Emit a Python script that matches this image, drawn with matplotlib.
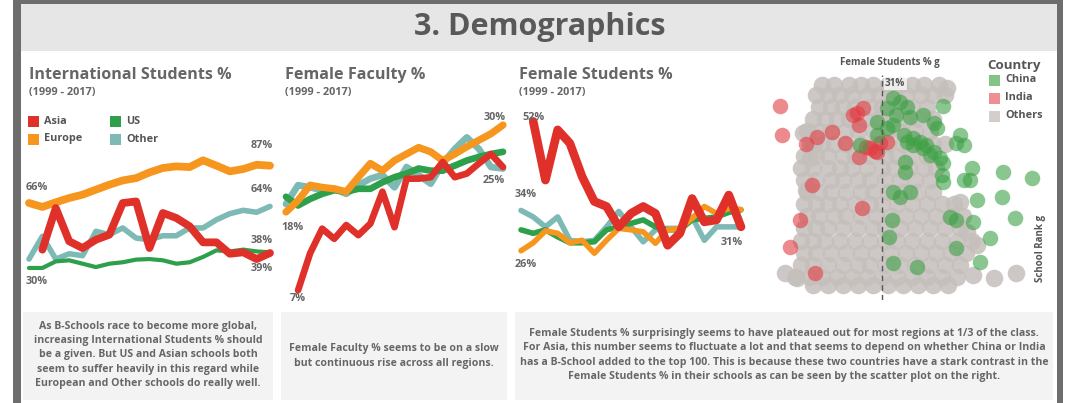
import numpy as np
import matplotlib
matplotlib.use('Agg')
import matplotlib.pyplot as plt
from matplotlib.patches import Rectangle

# Data (values in %)
years = list(range(1999, 2018))

# International Students % (Asia starts in 2000)
intl_europe = [66, 63.8, 66.4, 68.8, 70.7, 73.5, 76.3, 78.7, 80, 83.2, 85.7, 86.6, 86.2, 90, 87, 83.8, 85.1, 87.5, 87]
intl_asia = [39.8, 63.2, 44.5, 40.7, 45.4, 48.2, 66, 66.9, 40.7, 60.4, 57.6, 52.9, 43.9, 43.9, 37.5, 38.3, 34.5, 37.9]
intl_us = [29.5, 29.5, 33.2, 33.8, 31.9, 30, 31.9, 32.7, 34.2, 34.5, 33.8, 31.9, 32.7, 35.7, 39.4, 38.8, 39.8, 38.8, 38.3]
intl_other = [34.5, 47.3, 34.5, 37.5, 36.4, 50.1, 48.2, 52, 46.3, 45.4, 47.6, 47.6, 52, 52, 56.6, 60, 61.9, 60.8, 64.1]

# Female Faculty %
fac_europe = [18, 19.6, 21.7, 21.4, 21.2, 20.8, 22.8, 24.7, 23.7, 25.1, 26, 26.9, 26.3, 25.1, 26, 27, 27.9, 28.8, 30]
fac_asia = [7.2, 12.3, 15.7, 14.3, 16.2, 14.8, 16.4, 20.8, 15.9, 22.6, 22.6, 22.8, 24.9, 22.8, 23.3, 24.7, 26, 24.2]
fac_us = [20.1, 18.9, 19.8, 20.5, 21, 20.8, 21.2, 21.2, 22.1, 22.8, 23.3, 24, 23.7, 23.7, 24.4, 25.1, 25.6, 26, 26.3]
fac_other = [19.1, 21.7, 21.4, 21, 21.2, 20.5, 21.7, 22.6, 23.1, 21.4, 24.2, 23.1, 21.9, 24.7, 26.7, 28.3, 26.7, 24.2, 24]

# Female Students %
stu_europe = [26, 27.6, 30, 29.5, 27.6, 28.1, 25.5, 28.1, 30.5, 30.2, 29.8, 27.5, 30.2, 30.5, 32.5, 34.9, 33.5, 34.5, 34.3]
stu_asia = [52, 40.2, 50.3, 47.6, 40.9, 35.9, 34.9, 30.8, 33.5, 34.9, 33.5, 27.1, 29.5, 36.5, 31.8, 32.2, 37.2, 30.8]
stu_us = [30.2, 29.5, 30.2, 28.8, 27.6, 27.6, 27.8, 30.2, 30.8, 31.5, 32.2, 30.8, 30.2, 30.2, 32.2, 32.5, 32.8, 33.7, 34.2]
stu_other = [34.1, 32.8, 30.8, 32.8, 28.1, 27.8, 28.1, 30.8, 33.9, 30.8, 27.8, 30.2, 30.5, 30.5, 32.8, 28.1, 30.8, 30.8, 30.8]

# Scatter: Female Students % vs School Rank
china_pct = [41.2, 32.9, 34.0, 31.8, 35.1, 33.4, 35.7, 37.9, 39.6, 30.1, 31.8, 32.9, 34.6, 36.2, 37.3, 38.4, 39.6,
             40.7, 41.2, 39.0, 37.9, 35.1, 27.3, 30.1, 44.0, 43.4, 44.6, 46.0, 45.7, 44.6, 41.0, 41.2, 34.8, 34.8,
             32.9, 34.0, 35.7, 51.2, 56.0, 51.0, 46.8, 42.3, 43.4, 46.2, 53.2, 49.0, 32.6, 32.1, 43.4, 47.3, 32.9,
             36.8, 40.1, 36.2]
china_rank = [11.4, 7.6, 9.3, 12.6, 11.7, 15.9, 16.7, 15.9, 20.0, 19.2, 22.5, 20.8, 25.8, 27.4, 29.1, 30.7, 34.0,
              37.3, 39.8, 35.7, 32.4, 29.1, 30.7, 25.8, 25.8, 29.9, 30.7, 42.3, 48.0, 48.0, 45.6, 48.9, 39.0, 43.9,
              53.8, 56.3, 53.8, 43.9, 47.2, 56.3, 57.9, 66.2, 67.8, 68.7, 67.0, 76.6, 67.8, 76.1, 81.9, 88.5, 89.3,
              91.0, 22.5, 30.7]
india_pct = [14.0, 14.3, 18.4, 20.1, 22.6, 24.8, 26.8, 27.9, 27.1, 27.1, 28.4, 29.8, 30.7, 31.8, 30.1, 19.3, 27.6,
             17.3, 15.7, 19.8, 26.2, 29.0]
india_rank = [11.2, 25.8, 30.4, 26.6, 24.4, 29.9, 15.0, 12.6, 20.8, 36.5, 31.5, 33.7, 29.9, 29.1, 34.0, 50.5, 62.1,
              67.8, 81.0, 94.2, 15.9, 32.4]
others_rows = [1, 6, 12, 18, 24, 30, 36, 42, 48, 54, 60, 66, 72, 78, 84, 90, 96, 100]
others_pct_rows = [
    [21, 23, 25.5, 27.5, 29.5, 32, 34, 36, 38, 40.5],
    [20, 22, 24, 26, 28.5, 30.5, 33, 35, 37.5, 39.5, 41.5],
    [20.5, 22.5, 24.5, 26.5, 29, 31, 33.5, 36, 38.5],
    [19.5, 21.5, 23.5, 25.5, 28, 30.5, 32.5, 35, 37, 39.5],
    [18.5, 20.5, 22.5, 25, 27, 29.5, 32, 34, 36.5, 39],
    [19, 21, 23, 25, 27.5, 30, 32, 34.5, 37, 39.5, 41.5],
    [18, 20, 22, 24.5, 26.5, 29, 31.5, 33.5, 36, 38.5],
    [17.5, 19.5, 22, 24, 26, 28.5, 31, 33, 35.5, 38, 40],
    [18, 20, 22.5, 24.5, 27, 29, 31.5, 34, 36.5, 39],
    [18.5, 20.5, 22.5, 25, 27.5, 29.5, 32, 34.5, 37, 39.5],
    [18, 20, 22, 24, 26.5, 29, 31, 33.5, 36, 38.5, 41, 43],
    [18.5, 20.5, 23, 25, 27.5, 30, 32.5, 35, 37.5, 40, 42.5, 44.5],
    [18, 20, 22, 24.5, 27, 29.5, 31.5, 34, 36.5, 39, 41.5, 44],
    [17.5, 19.5, 21.5, 24, 26.5, 29, 31.5, 33.5, 36, 38.5, 41, 43.5, 46],
    [18, 20, 22.5, 25, 27.5, 30, 32.5, 35, 37.5, 40, 42.5, 45],
    [17.5, 19.5, 22, 24.5, 27, 29, 31.5, 34, 36.5, 39, 41.5, 44],
    [16.5, 19, 21, 23.5, 26, 28.5, 31, 33.5, 36, 38.5, 41, 43.5],
    [19.5, 22, 24.5, 27, 29.5, 32, 34.5, 37, 39.5, 42],
]
others_extra_pct = [17.9, 19.6, 19.0, 18.4, 44.0, 45.1, 46.8, 53.4, 49.6, 46.2, 14.8, 16.8, 41.8]
others_extra_rank = [24.9, 30.7, 37.3, 53.0, 58.8, 73.6, 80.2, 94.2, 96.7, 95.1, 94.2, 96.7, 2.7]
median_pct = 31

# Colours
RED, ORANGE, GREEN, TEAL = '#e0302a', '#f7961e', '#2e9f4a', '#7dbab5'
TXT = '#666666'
FONT = ['Open Sans', 'DejaVu Sans']
plt.rcParams['font.family'] = FONT

W, H = 1080, 403
fig = plt.figure(figsize=(W / 100, H / 100), dpi=100)

# background drawn in pixel coords
bg = fig.add_axes([0, 0, 1, 1])
bg.set_xlim(0, W)
bg.set_ylim(H, 0)
bg.axis('off')


def rect(x0, y0, x1, y1, color):
    bg.add_patch(Rectangle((x0, y0), x1 - x0, y1 - y0, color=color, lw=0))


def px_axes(left, top, right, bottom):
    ax = fig.add_axes([left / W, 1 - bottom / H, (right - left) / W, (bottom - top) / H])
    ax.axis('off')
    return ax


rect(13, 0, 1063, 4, '#6d6d6d')
rect(13, 0, 21, H, '#6d6d6d')
rect(1057, 0, 1063, H, '#6d6d6d')
rect(21, 4, 1057, 51, '#e6e6e6')
bg.text(540, 27, '3. Demographics', ha='center', va='center', fontsize=22, fontweight='bold', color='#595959')

# text boxes
rect(23, 312, 273, 400, '#f3f3f3')
rect(281, 312, 507, 400, '#f3f3f3')
rect(515, 312, 1053, 400, '#f3f3f3')
box_kw = dict(ha='center', va='center', fontsize=7.6, fontweight='bold', color='#666666', linespacing=1.4)
bg.text(148, 355, 'As B-Schools race to become more global,\nincreasing International Students % should\n'
        'be a given. But US and Asian schools both\nseem to suffer heavily in this regard while\n'
        'European and Other schools do really well.', **box_kw)
bg.text(394, 356, 'Female Faculty % seems to be on a slow\nbut continuous rise across all regions.', **box_kw)
bg.text(784, 355, 'Female Students % surprisingly seems to have plateaued out for most regions at 1/3 of the class.\n'
        'For Asia, this number seems to fluctuate a lot and that seems to depend on whether China or India\n'
        'has a B-School added to the top 100. This is because these two countries have a stark contrast in the\n'
        'Female Students % in their schools as can be seen by the scatter plot on the right.', **box_kw)

# panel titles
for x0, title in [(29, 'International Students %'), (285, 'Female Faculty %'), (519, 'Female Students %')]:
    bg.text(x0, 75, title, ha='left', va='center', fontsize=11.6, fontweight='bold', color=TXT)
    bg.text(x0, 92, '(1999 - 2017)', ha='left', va='center', fontsize=7.8, fontweight='bold', color=TXT)

# legend of panel 1
for (x0, y0, name, c) in [(28, 121, 'Asia', RED), (28, 139, 'Europe', ORANGE),
                          (110, 121, 'US', GREEN), (110, 139, 'Other', TEAL)]:
    rect(x0, y0 - 5, x0 + 11, y0 + 6, c)
    bg.text(x0 + 16, y0, name, ha='left', va='center', fontsize=7.8, fontweight='bold', color='#555555')


def line_panel(left, right, vtop, vbot, series):
    ax = px_axes(left, 100, right, 300)
    ax.set_xlim(years[0], years[-1])
    ax.set_ylim(vbot, vtop)
    for vals, c, lw in series:
        x = years[len(years) - len(vals):]
        ax.plot(x, vals, color=c, lw=lw, solid_capstyle='round', solid_joinstyle='round', clip_on=False)
    return ax


def label(ax, x, y, s, dx, dy):
    ax.annotate(s, (x, y), xytext=(dx, dy), textcoords='offset pixels', ha='center', va='center',
                fontsize=7.8, fontweight='bold', color=TXT, annotation_clip=False)


ax1 = line_panel(29, 270, 123.9, 11.5, [(intl_other, TEAL, 4.0), (intl_us, GREEN, 3.0),
                                         (intl_europe, ORANGE, 5.6), (intl_asia, RED, 5.6)])
label(ax1, years[0], intl_europe[0], '66%', 8, 16)
label(ax1, years[0], intl_us[0], '30%', 8, -14)
label(ax1, years[-1], intl_europe[-1], '87%', -8, 20)
label(ax1, years[-1], intl_other[-1], '64%', -8, 17)
label(ax1, years[-1], intl_us[-1], '38%', -8, 12)
label(ax1, years[-1], intl_asia[-1], '39%', -8, -15)

ax2 = line_panel(286, 503, 33.45, 5.86, [(fac_other, TEAL, 4.8), (fac_us, GREEN, 4.8),
                                          (fac_europe, ORANGE, 5.2), (fac_asia, RED, 4.8)])
label(ax2, years[-1], fac_europe[-1], '30%', -8, 8)
label(ax2, years[-1], fac_asia[-1], '25%', -9, -13)
label(ax2, years[0], fac_europe[0], '18%', 6, -16)
label(ax2, years[1], fac_asia[0], '7%', 0, -8)

ax3 = line_panel(521, 741, 56.3, 16.1, [(stu_other, TEAL, 4.0), (stu_us, GREEN, 4.0),
                                         (stu_europe, ORANGE, 4.0), (stu_asia, RED, 6.2)])
label(ax3, years[1], stu_asia[0], '52%', 0, 4)
label(ax3, years[0], stu_other[0], '34%', 5, 16)
label(ax3, years[0], stu_europe[0], '26%', 5, -14)
label(ax3, years[-1], stu_asia[-1], '31%', -9, -16)

# scatter panel
ax4 = px_axes(770, 75, 1040, 300)
ax4.set_xlim(12.33, 57.33)
ax4.set_ylim(107.4, -3.95)
o_pct = [p for row in others_pct_rows for p in row] + others_extra_pct
o_rank = [r for r, row in zip(others_rows, others_pct_rows) for _ in row] + others_extra_rank
ax4.scatter(o_pct, o_rank, s=160, color='#c5bfbc', alpha=0.85, lw=0, clip_on=False)
ax4.scatter(india_pct, india_rank, s=125, color='#e23c42', alpha=0.6, lw=0, clip_on=False)
ax4.scatter(china_pct, china_rank, s=125, color='#3da144', alpha=0.6, lw=0, clip_on=False)
ax4.axvline(median_pct, ymin=0, ymax=1, color='#555555', lw=1, ls=(0, (4, 3)))
ax4.text(median_pct + 0.5, 0.2, '31%', ha='left', va='center', fontsize=7.2, fontweight='bold', color='#555555',
         bbox=dict(boxstyle='square,pad=0.15', fc='white', ec='none', alpha=0.7))

bg.text(890, 62, 'Female Students % g', ha='center', va='center', fontsize=7, fontweight='bold', color='#555555')
bg.text(1040, 248, 'School Rank g', ha='center', va='center', rotation=90, fontsize=7, fontweight='bold',
        color='#555555')
bg.text(987, 65, 'Country', ha='left', va='center', fontsize=9.5, fontweight='bold', color='#555555')
for y0, name, c in [(80, 'China', '#85c487'), (98, 'India', '#ee8f92'), (116, 'Others', '#d3cecc')]:
    rect(989, y0 - 5, 1000, y0 + 6, c)
    bg.text(1005, y0, name, ha='left', va='center', fontsize=7.8, fontweight='bold', color='#555555')

fig.savefig('out.png', dpi=100)
